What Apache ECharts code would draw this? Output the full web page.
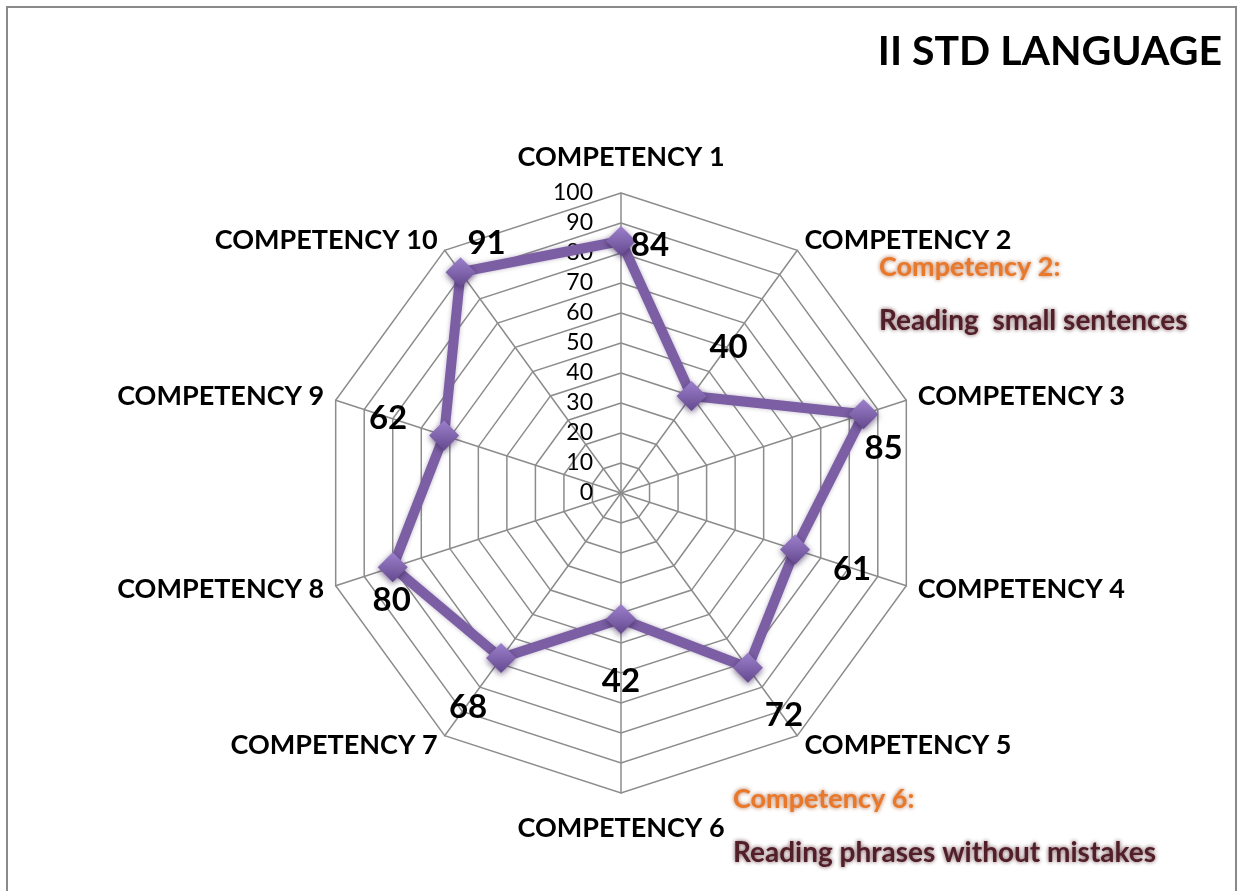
<!DOCTYPE html>
<html>
<head>
<meta charset="utf-8">
<script src="https://cdn.jsdelivr.net/npm/echarts@6/dist/echarts.min.js"></script>
<style>
  html, body { margin: 0; padding: 0; background: #fff; }
  #frame { position: absolute; left: 6px; top: 6px; width: 1227px; height: 900px;
           border: 2px solid #8a8a8a; border-bottom: none; }
  #chart { position: absolute; left: 0; top: 0; width: 1242px; height: 891px; }
</style>
</head>
<body>
<div id="frame"></div>
<div id="chart"></div>
<script>
const categories = ['COMPETENCY 1', 'COMPETENCY 2', 'COMPETENCY 3', 'COMPETENCY 4', 'COMPETENCY 5',
                    'COMPETENCY 6', 'COMPETENCY 7', 'COMPETENCY 8', 'COMPETENCY 9', 'COMPETENCY 10'];
const scores = [84, 40, 85, 61, 72, 42, 68, 80, 62, 91];
const axisMax = 100;

// label nudge (px) for each value label, same order as categories
const labelShift = [[29, 4], [37, -49], [20, 34], [57, 20], [36, 48],
                    [0, 62], [-33, 49], [-1, 33], [-56, -17], [26, -29]];

const FONT = 'Lato';

// echarts radar runs counter-clockwise, the picture runs clockwise
const order = [0].concat(categories.map((c, i) => i).slice(1).reverse());

const rich = {};
labelShift.forEach(function (s, i) {
    const dx = s[0], dy = s[1];
    rich['p' + i] = {
        fontFamily: FONT, fontWeight: 'bold', fontSize: 33, color: '#000',
        padding: [dy > 0 ? 2 * dy : 0, dx < 0 ? -2 * dx : 0, dy < 0 ? -2 * dy : 0, dx > 0 ? 2 * dx : 0]
    };
});

const chart = echarts.init(document.getElementById('chart'));

const noteOrange = { color: '#e9782a', textShadowColor: 'rgba(150,60,10,0.75)', textShadowBlur: 4 };
const noteDark = { color: '#521e28', textShadowColor: 'rgba(60,10,20,0.75)', textShadowBlur: 4 };

const option = {
    backgroundColor: 'transparent',
    title: [
        { text: 'II STD LANGUAGE', right: 15, top: 26,
          textStyle: { fontFamily: FONT, fontWeight: 'bold', fontSize: 41, color: '#000' } },
        { text: 'Competency 2:', left: 874, top: 249,
          textStyle: Object.assign({ fontFamily: FONT, fontWeight: 'bold', fontSize: 27 }, noteOrange) },
        { text: 'Reading  small sentences', left: 874, top: 302,
          textStyle: Object.assign({ fontFamily: FONT, fontWeight: 'bold', fontSize: 28 }, noteDark) },
        { text: 'Competency 6:', left: 728, top: 781,
          textStyle: Object.assign({ fontFamily: FONT, fontWeight: 'bold', fontSize: 27 }, noteOrange) },
        { text: 'Reading phrases without mistakes', left: 728, top: 834,
          textStyle: Object.assign({ fontFamily: FONT, fontWeight: 'bold', fontSize: 28 }, noteDark) }
    ],
    radar: {
        center: [621, 493],
        radius: 300,
        startAngle: 90,
        shape: 'polygon',
        splitNumber: 10,
        nameGap: 12,
        indicator: order.map(function (i) {
            const ind = { name: categories[i], min: 0, max: axisMax };
            if (i === 0) {
                ind.axisLabel = { show: true, fontFamily: FONT, fontSize: 23, color: '#000', margin: 28, showMaxLabel: true };
            }
            // top and bottom names sit a bit further out
            if (i === 0 || i === 5) ind.nameGap = 22;
            return ind;
        }),
        axisName: { fontFamily: FONT, fontWeight: 'bold', fontSize: 27, color: '#000' },
        axisLine: { lineStyle: { color: '#8c8c8c', width: 1.5 } },
        splitLine: { lineStyle: { color: '#8c8c8c', width: 1.5 } },
        splitArea: { show: false },
        axisTick: { show: false },
        axisLabel: { show: false }
    },
    series: [{
        type: 'radar',
        symbol: 'diamond',
        symbolSize: 30,
        lineStyle: { color: '#7b5ea3', width: 10, shadowColor: 'rgba(60,40,90,0.35)', shadowBlur: 4 },
        itemStyle: {
            color: new echarts.graphic.LinearGradient(0, 0, 0, 1, [
                { offset: 0, color: '#9c80cc' },
                { offset: 1, color: '#65498e' }
            ]),
            shadowColor: 'rgba(40,20,70,0.6)', shadowBlur: 6, shadowOffsetY: 2
        },
        label: {
            show: true,
            position: 'inside',
            formatter: function (p) {
                const i = scores.indexOf(p.value);
                return '{p' + i + '|' + p.value + '}';
            },
            rich: rich
        },
        data: [{ value: order.map(i => scores[i]), name: 'II STD LANGUAGE' }]
    }]
};

chart.setOption(option);
window.addEventListener('resize', function () { chart.resize(); });
</script>
</body>
</html>
